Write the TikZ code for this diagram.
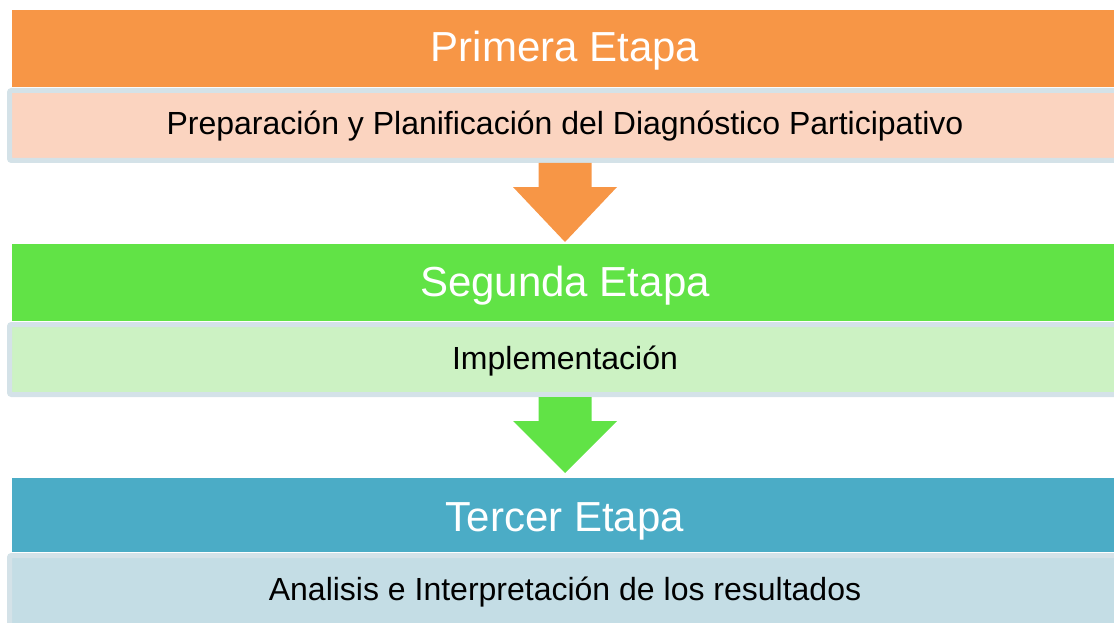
\documentclass[tikz,border=0pt]{standalone}
\usepackage{fontspec}
\setmainfont{Liberation Sans}
\usetikzlibrary{calc}
\newlength{\du}
\setlength{\du}{1pt}

\begin{document}
\begin{tikzpicture}[even odd rule]
\pgftransformxscale{1.000000}
\pgftransformyscale{-1.000000}
\definecolor{etapaunocolor}{rgb}{0.968627, 0.588235, 0.274510}
\definecolor{etapadoscolor}{rgb}{0.380392, 0.890196, 0.274510}
\definecolor{etapatrescolor}{rgb}{0.294118, 0.674510, 0.776471}
\definecolor{detalleunocolor}{rgb}{0.984314, 0.831373, 0.752941}
\definecolor{detalledoscolor}{rgb}{0.800000, 0.949020, 0.764706}
\definecolor{detalletrescolor}{rgb}{0.768627, 0.866667, 0.898039}
\definecolor{bordecolor}{rgb}{0.831373, 0.886275, 0.909804}
\tikzset{
  etapa/.style={anchor=center, inner sep=0pt, outer sep=0pt, minimum width=1106\du, text height=27\du, text depth=0pt, text=white, font=\fontsize{42}{50}\selectfont},
  detalle/.style={anchor=center, inner sep=0pt, outer sep=0pt, minimum width=1111\du, minimum height=70\du, text height=19\du, text depth=0pt, draw=bordecolor, line width=5\du, rounded corners=2\du, text=black, font=\fontsize{32}{38}\selectfont}
}
\clip (0\du,0\du) rectangle (1114\du,623\du);
% primera etapa
\node[etapa, minimum height=77\du, fill=etapaunocolor] (etapa1) at (565\du,48.5\du) {Primera Etapa};
\node[detalle, fill=detalleunocolor] (detalle1) at (565\du,125.5\du) {Preparación y Planificación del Diagnóstico Participativo};
% segunda etapa
\node[etapa, minimum height=77\du, fill=etapadoscolor] (etapa2) at (565\du,282.5\du) {Segunda Etapa};
\node[detalle, fill=detalledoscolor] (detalle2) at (565\du,359.5\du) {Implementación};
% tercer etapa
\node[etapa, minimum height=74\du, text height=32\du, fill=etapatrescolor] (etapa3) at (565\du,515\du) {Tercer Etapa};
\node[detalle, fill=detalletrescolor] (detalle3) at (565\du,590.5\du) {Analisis e Interpretación de los resultados};
% flechas
\fill[color=etapaunocolor] ($(detalle1.south)+(-26.5\du,2.5\du)$)--($(detalle1.south)+(-26.5\du,26.5\du)$)--($(detalle1.south)+(-52\du,26.5\du)$)--($(etapa2.north)+(0\du,-2\du)$)--($(detalle1.south)+(52\du,26.5\du)$)--($(detalle1.south)+(26.5\du,26.5\du)$)--($(detalle1.south)+(26.5\du,2.5\du)$)--cycle;
\fill[color=etapadoscolor] ($(detalle2.south)+(-26.5\du,2.5\du)$)--($(detalle2.south)+(-26.5\du,26.5\du)$)--($(detalle2.south)+(-52\du,26.5\du)$)--($(etapa3.north)+(0\du,-5\du)$)--($(detalle2.south)+(52\du,26.5\du)$)--($(detalle2.south)+(26.5\du,26.5\du)$)--($(detalle2.south)+(26.5\du,2.5\du)$)--cycle;
\end{tikzpicture}
\end{document}
